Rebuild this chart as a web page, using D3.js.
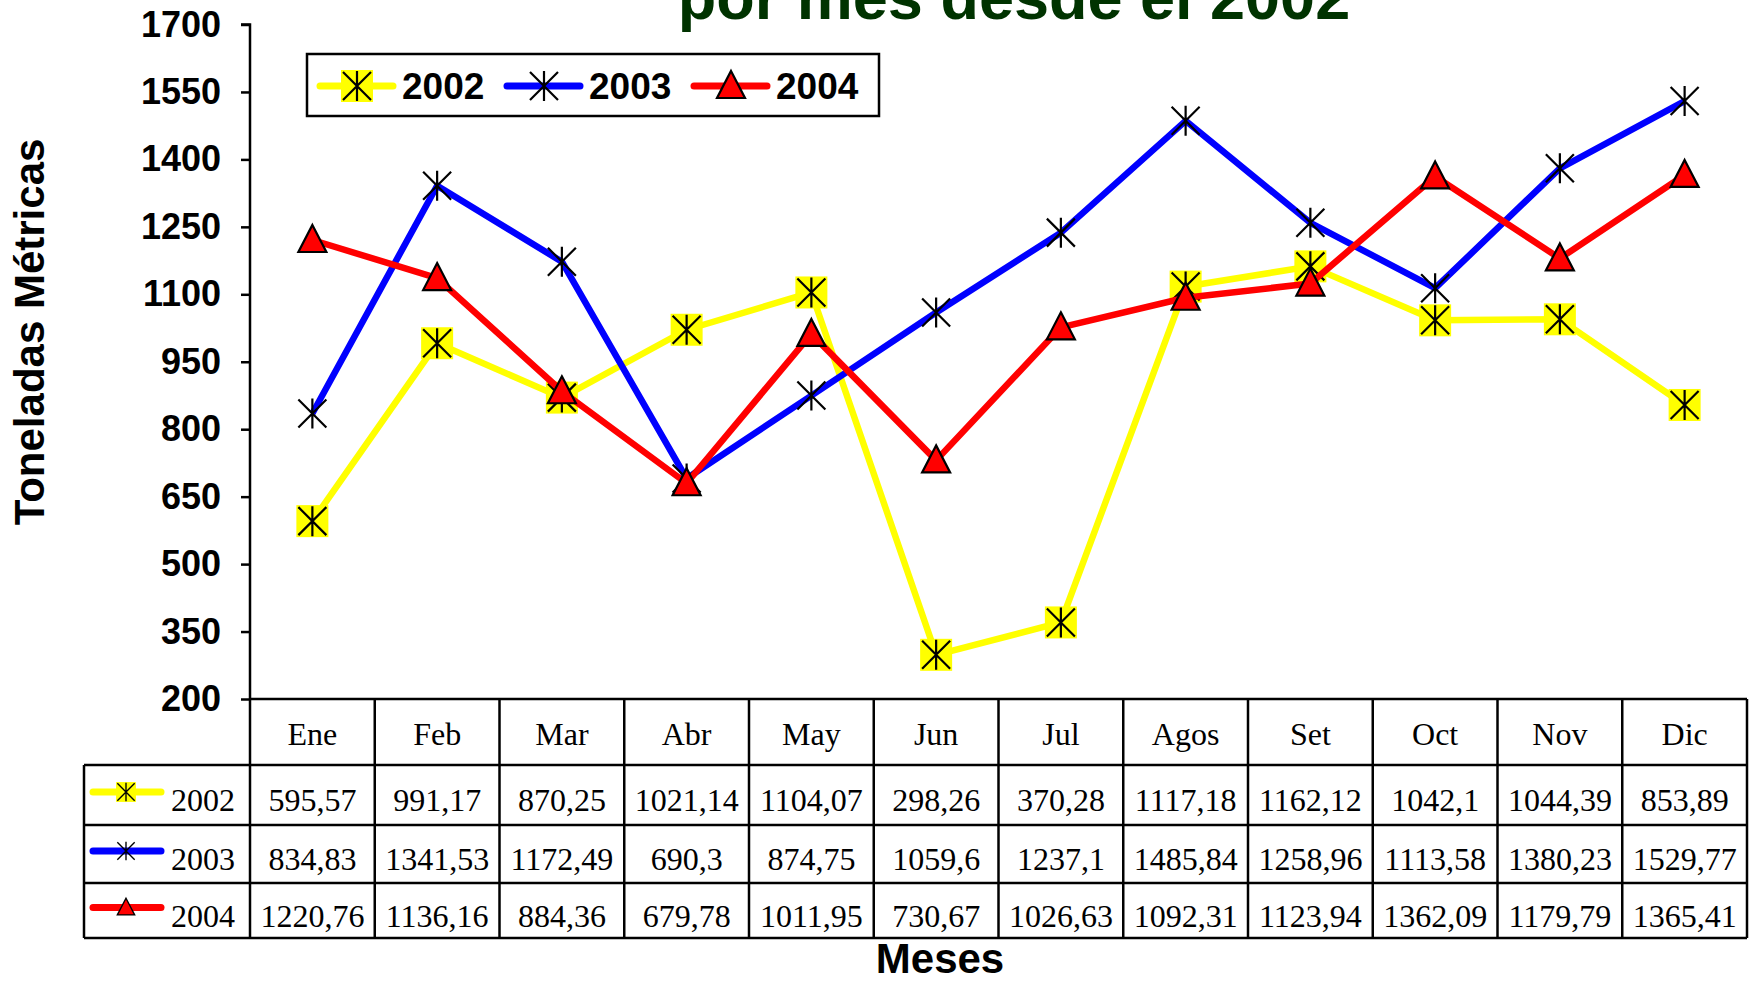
<!DOCTYPE html>
<html>
<head>
<meta charset="utf-8">
<script src="https://cdn.jsdelivr.net/npm/d3@7"></script>
<style>
  body { margin: 0; background: #fff; }
  svg { display: block; }
</style>
</head>
<body>
<svg class="s"></svg>
<script>
var months = ['Ene','Feb','Mar','Abr','May','Jun','Jul','Agos','Set','Oct','Nov','Dic'];
var years = ['2002','2003','2004'];
var v2002 = [595.57, 991.17, 870.25, 1021.14, 1104.07, 298.26, 370.28, 1117.18, 1162.12, 1042.1, 1044.39, 853.89];
var v2003 = [834.83, 1341.53, 1172.49, 690.3, 874.75, 1059.6, 1237.1, 1485.84, 1258.96, 1113.58, 1380.23, 1529.77];
var v2004 = [1220.76, 1136.16, 884.36, 679.78, 1011.95, 730.67, 1026.63, 1092.31, 1123.94, 1362.09, 1179.79, 1365.41];
var yTicks = [200, 350, 500, 650, 800, 950, 1100, 1250, 1400, 1550, 1700];
var colors = ['#ffff00', '#0000ff', '#ff0000'];
var markers = ['starSquare', 'star', 'triangle'];

var w = 1749;
var h = 982;

var svg = d3.select('.s')
            .attr('width', w)
            .attr('height', h);

var left = 250, right = 1747;
var top0 = 24.5, bottom = 699;
var tableLeft = 84;
var rowH = [66, 60, 58, 55];

var x = d3.scaleBand().domain(months).range([left, right]).padding(0);
var y = d3.scaleLinear().domain([200, 1700]).range([bottom, top0]);
var cx = function(m){ return x(m) + x.bandwidth()/2; };

var series = [v2002, v2003, v2004];

// title (second line, first line cut off)
svg.append('text')
   .attr('x', 1014).attr('y', 19)
   .attr('text-anchor', 'middle')
   .attr('font-family', 'Liberation Sans, Arial, sans-serif')
   .attr('font-weight', 'bold')
   .attr('font-size', 63)
   .attr('fill', '#003300')
   .text('por mes desde el 2002');

// y axis
var yAxis = d3.axisLeft(y).tickValues(yTicks).tickFormat(d3.format('d')).tickSize(9).tickPadding(20);
var gy = svg.append('g').attr('transform', 'translate(' + left + ',0)').call(yAxis);
gy.select('.domain').attr('stroke', '#000').attr('stroke-width', 2.5).attr('d', 'M-9,' + y(1700) + 'H0V' + bottom);
gy.selectAll('.tick line').attr('stroke', '#000').attr('stroke-width', 2.5);
gy.selectAll('.tick text')
  .attr('font-family', 'Liberation Sans, Arial, sans-serif')
  .attr('font-weight', 'bold')
  .attr('font-size', 36)
  .attr('fill', '#000');

svg.append('text')
   .attr('transform', 'translate(44,332) rotate(-90)')
   .attr('text-anchor', 'middle')
   .attr('font-family', 'Liberation Sans, Arial, sans-serif')
   .attr('font-weight', 'bold')
   .attr('font-size', 42)
   .text('Toneladas Métricas');

svg.append('text')
   .attr('x', 940).attr('y', 973)
   .attr('text-anchor', 'middle')
   .attr('font-family', 'Liberation Sans, Arial, sans-serif')
   .attr('font-weight', 'bold')
   .attr('font-size', 42)
   .text('Meses');

// marker drawing
var drawMarker = function(g, type, col){
  if (type === 'starSquare') {
    g.append('rect').attr('x', -16).attr('y', -16).attr('width', 32).attr('height', 32).attr('fill', col);
  }
  if (type === 'starSquare' || type === 'star') {
    g.append('path')
     .attr('d', 'M0,-15V15M-14,-14L14,14M-14,14L14,-14')
     .attr('stroke', '#000').attr('stroke-width', 2.2).attr('fill', 'none');
  }
  if (type === 'triangle') {
    g.append('path')
     .attr('d', 'M0,-15L14,12H-14Z')
     .attr('fill', col).attr('stroke', '#000').attr('stroke-width', 2.2)
     .attr('stroke-linejoin', 'miter');
  }
};

var line = d3.line()
             .x(function(d, i){ return cx(months[i]); })
             .y(function(d){ return y(d); });

series.forEach(function(vals, s){
  svg.append('path')
     .attr('d', line(vals))
     .attr('fill', 'none')
     .attr('stroke', colors[s])
     .attr('stroke-width', 6.5)
     .attr('stroke-linejoin', 'round');
  vals.forEach(function(v, i){
    var g = svg.append('g').attr('transform', 'translate(' + cx(months[i]) + ',' + y(v) + ')');
    drawMarker(g, markers[s], colors[s]);
  });
});

// legend
svg.append('rect')
   .attr('x', 307).attr('y', 54).attr('width', 572).attr('height', 62)
   .attr('fill', '#fff').attr('stroke', '#000').attr('stroke-width', 2.5);
var legX = [320, 507, 694];
years.forEach(function(yr, s){
  var lx = legX[s];
  svg.append('line')
     .attr('x1', lx).attr('x2', lx + 73).attr('y1', 86).attr('y2', 86)
     .attr('stroke', colors[s]).attr('stroke-width', 7).attr('stroke-linecap', 'round');
  var g = svg.append('g').attr('transform', 'translate(' + (lx + 37) + ',86)');
  drawMarker(g, markers[s], colors[s]);
  svg.append('text')
     .attr('x', lx + 82).attr('y', 86).attr('dy', '0.36em')
     .attr('font-family', 'Liberation Sans, Arial, sans-serif')
     .attr('font-weight', 'bold')
     .attr('font-size', 37)
     .text(yr);
});

// data table
var rowY = [bottom];
rowH.forEach(function(rh, i){ rowY.push(rowY[i] + rh); });
var tbl = svg.append('g');
var serif = 'Liberation Serif, Times New Roman, serif';

// horizontal lines
tbl.append('line').attr('x1', left).attr('x2', right).attr('y1', rowY[0]).attr('y2', rowY[0]);
for (var r = 1; r < rowY.length; r++) {
  tbl.append('line').attr('x1', tableLeft).attr('x2', right).attr('y1', rowY[r]).attr('y2', rowY[r]);
}
// vertical lines
tbl.append('line').attr('x1', tableLeft).attr('x2', tableLeft).attr('y1', rowY[1]).attr('y2', rowY[4]);
months.forEach(function(m){
  tbl.append('line').attr('x1', x(m)).attr('x2', x(m)).attr('y1', rowY[0]).attr('y2', rowY[4]);
});
tbl.append('line').attr('x1', right).attr('x2', right).attr('y1', rowY[0]).attr('y2', rowY[4]);
tbl.selectAll('line').attr('stroke', '#000').attr('stroke-width', 2.5);

months.forEach(function(m){
  tbl.append('text')
     .attr('x', cx(m)).attr('y', (rowY[0] + rowY[1])/2 + 2).attr('dy', '0.35em')
     .attr('text-anchor', 'middle')
     .attr('font-family', serif).attr('font-size', 32)
     .text(m);
});

var fmt = function(v){ return String(v).replace('.', ','); };
series.forEach(function(vals, s){
  var ym = (rowY[s+1] + rowY[s+2])/2;
  tbl.append('line')
     .attr('x1', 93).attr('x2', 161).attr('y1', ym - 3).attr('y2', ym - 3)
     .attr('stroke', colors[s]).attr('stroke-width', 7).attr('stroke-linecap', 'round');
  var g = tbl.append('g').attr('transform', 'translate(126,' + (ym - 3) + ') scale(0.62)');
  drawMarker(g, markers[s], colors[s]);
  tbl.append('text')
     .attr('x', 171).attr('y', ym + 5).attr('dy', '0.35em')
     .attr('font-family', serif).attr('font-size', 32)
     .text(years[s]);
  vals.forEach(function(v, i){
    tbl.append('text')
       .attr('x', cx(months[i])).attr('y', ym + 5).attr('dy', '0.35em')
       .attr('text-anchor', 'middle')
       .attr('font-family', serif).attr('font-size', 32)
       .text(fmt(v));
  });
});
</script>
</body>
</html>
